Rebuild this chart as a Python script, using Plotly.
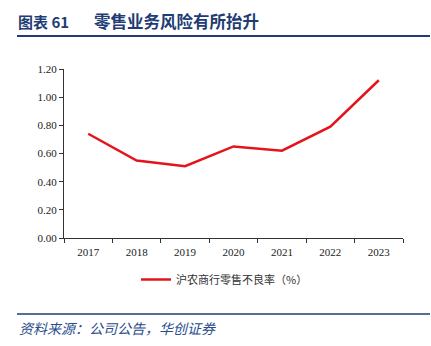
import plotly.graph_objects as go

years = ["2017", "2018", "2019", "2020", "2021", "2022", "2023"]
npl = [0.74, 0.55, 0.51, 0.65, 0.62, 0.79, 1.12]
series_name = "沪农商行零售不良率（%）"
title_label = "图表 61"
title_text = "零售业务风险有所抬升"
source_text = "资料来源：公司公告，华创证券"

W, H = 431, 346
L, R, T, B = 64, 403, 69, 238
pw, ph = R - L, B - T

def px_x(x):
    return (x - L) / pw

def px_y(y):
    return (B - y) / ph

fig = go.Figure()
fig.add_trace(go.Scatter(
    x=years, y=npl, mode="lines", name=series_name,
    line=dict(color="#E3141B", width=2.5),
))

fig.update_layout(
    width=W, height=H,
    margin=dict(l=L, r=W - R, t=T, b=H - B),
    paper_bgcolor="white", plot_bgcolor="white",
    showlegend=True,
    legend=dict(orientation="h", x=px_x(136), y=px_y(265), xanchor="left", yanchor="top",
                font=dict(family="Noto Sans CJK SC", size=11, color="#333333"),
                bgcolor="rgba(0,0,0,0)"),
    xaxis=dict(type="category", range=[-0.5, 6.5], showline=True, linecolor="#333333", linewidth=1,
               ticks="outside", tickson="boundaries", ticklen=4, tickcolor="#333333",
               ticklabelstandoff=4,
               showgrid=False, tickfont=dict(family="Liberation Serif", size=11, color="#222222")),
    yaxis=dict(range=[0, 1.2], dtick=0.2, tickformat=".2f", showline=True, linecolor="#333333",
               linewidth=1, ticks="outside", ticklen=4, tickcolor="#333333", showgrid=False,
               zeroline=False,
               tickfont=dict(family="Liberation Serif", size=11, color="#222222")),
)

fig.add_annotation(text="<b>" + title_label + "</b>", xref="paper", yref="paper",
                   x=px_x(16), y=px_y(21), xanchor="left", yanchor="middle", showarrow=False,
                   font=dict(family="Noto Sans CJK SC", size=15, color="#1F3C74"))
fig.add_annotation(text="<b>" + title_text + "</b>", xref="paper", yref="paper",
                   x=px_x(92), y=px_y(21), xanchor="left", yanchor="middle", showarrow=False,
                   font=dict(family="Noto Sans CJK SC", size=16.5, color="#1F3C74"))
fig.add_annotation(text="<i>" + source_text + "</i>", xref="paper", yref="paper",
                   x=px_x(17), y=px_y(328), xanchor="left", yanchor="middle", showarrow=False,
                   font=dict(family="Noto Sans CJK SC", size=14, color="#2A4C8C"))
fig.add_shape(type="line", xref="paper", yref="paper", x0=px_x(17), x1=px_x(430),
              y0=px_y(36), y1=px_y(36), line=dict(color="#1F3C74", width=2))
fig.add_shape(type="line", xref="paper", yref="paper", x0=px_x(17), x1=px_x(430),
              y0=px_y(314), y1=px_y(314), line=dict(color="#1F3C74", width=1.5))

fig.write_html("out.html")
